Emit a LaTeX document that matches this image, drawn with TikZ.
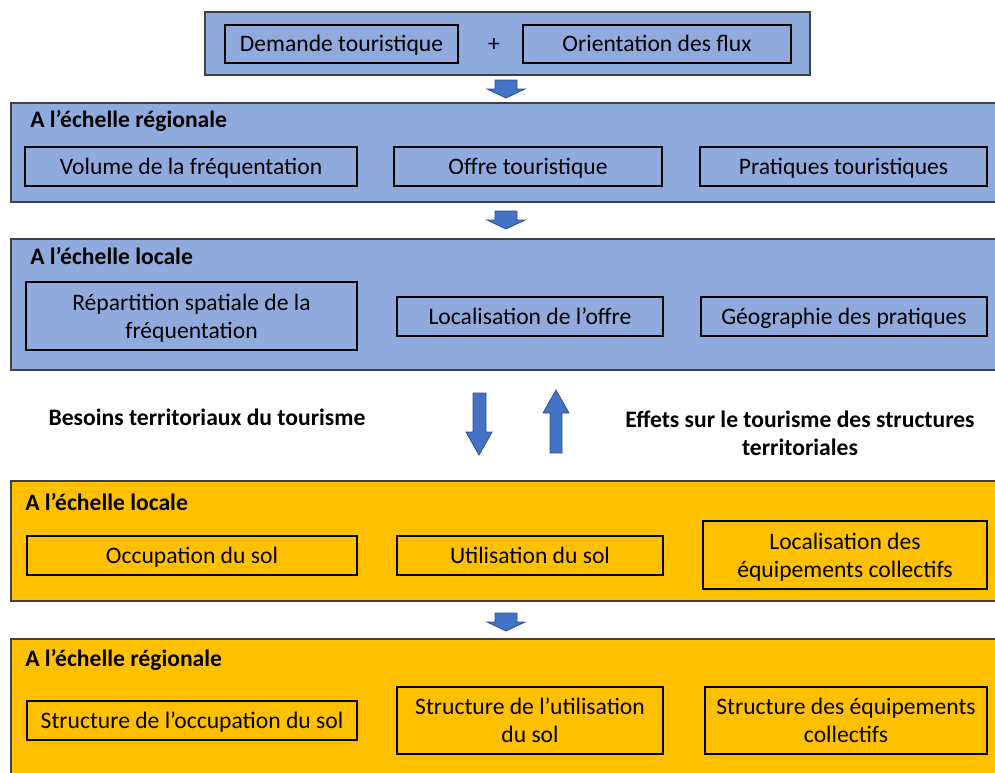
\documentclass[tikz,border=0pt]{standalone}
\usepackage{fontspec}
\setmainfont{Carlito}
\usetikzlibrary{positioning}

\definecolor{paleblue}{HTML}{8FAADC}
\definecolor{gold}{HTML}{FFC000}
\definecolor{arrowblue}{HTML}{4472C4}
\definecolor{arrowedge}{HTML}{2F528F}
\newcommand\pxu{0.75pt}

\tikzset{
  panel/.style={draw=black!75,line width=1.1pt,inner sep=0pt},
  item/.style={draw=black,line width=0.8pt,inner sep=0pt,align=center,
    font=\fontsize{17.7}{21}\selectfont},
  oneline/.style={item,text height=15pt,text depth=3.3pt},
  twoline/.style={item,text depth=0pt},
  heading/.style={anchor=west,inner sep=0pt,font=\fontsize{17.7}{21}\selectfont\bfseries},
  bigarrow/.style={fill=arrowblue,draw=arrowedge,line width=0.6pt,line join=miter}
}

\begin{document}
\begin{tikzpicture}[x=0.75pt,y=-0.75pt]
    \useasboundingbox (0,0) rectangle (995,772);
    % demande
    \node [panel,fill=paleblue,minimum width=605*\pxu,minimum height=63*\pxu] (top) at (507.5,43.5) {};
    \node [oneline,minimum width=233*\pxu,minimum height=38*\pxu] (dem) at (341.5,44) {Demande touristique};
    \node [oneline,draw=none] (plus) at (494,44) {+};
    \node [oneline,minimum width=268*\pxu,minimum height=38*\pxu] (ori) at (657,44) {Orientation des flux};
    % echelle regionale (tourisme)
    \node [panel,fill=paleblue,minimum width=990*\pxu,minimum height=99*\pxu] (regA) at (506,152.5) {};
    \node [heading] (regAt) at (30,121) {A l’échelle régionale};
    \node [oneline,minimum width=332*\pxu,minimum height=39*\pxu] (vol) at (191,166.5) {Volume de la fréquentation};
    \node [oneline,minimum width=268*\pxu,minimum height=39*\pxu] (offre) at (528,166.5) {Offre touristique};
    \node [oneline,minimum width=287*\pxu,minimum height=39*\pxu] (prat) at (843.5,166.5) {Pratiques touristiques};
    % echelle locale (tourisme)
    \node [panel,fill=paleblue,minimum width=990*\pxu,minimum height=131*\pxu] (locA) at (506,304.5) {};
    \node [heading] (locAt) at (30,256) {A l’échelle locale};
    \node [twoline,minimum width=331*\pxu,minimum height=68*\pxu] (rep) at (191.5,316) {Répartition spatiale de la\\fréquentation};
    \node [oneline,minimum width=266*\pxu,minimum height=39*\pxu] (locoffre) at (530,316.5) {Localisation de l’offre};
    \node [oneline,minimum width=286*\pxu,minimum height=39*\pxu] (geo) at (844,316.5) {Géographie des pratiques};
    % liens
    \node [heading,anchor=center] (besoins) at (207,417) {Besoins territoriaux du tourisme};
    \node [heading,anchor=center,align=center] (effets) at (800,433) {Effets sur le tourisme des structures\\territoriales};
    % echelle locale (territoire)
    \node [panel,fill=gold,minimum width=990*\pxu,minimum height=120*\pxu] (locB) at (506,541) {};
    \node [heading] (locBt) at (25,502) {A l’échelle locale};
    \node [oneline,minimum width=330*\pxu,minimum height=39*\pxu] (occ) at (192,555.5) {Occupation du sol};
    \node [oneline,minimum width=266*\pxu,minimum height=39*\pxu] (util) at (530,555.5) {Utilisation du sol};
    \node [twoline,minimum width=284*\pxu,minimum height=68*\pxu] (equip) at (845,555) {Localisation des\\équipements collectifs};
    % echelle regionale (territoire)
    \node [panel,fill=gold,minimum width=990*\pxu,minimum height=141*\pxu] (regB) at (506,709.5) {};
    \node [heading] (regBt) at (25,660) {A l’échelle régionale};
    \node [oneline,minimum width=330*\pxu,minimum height=39*\pxu] (socc) at (192,720.5) {Structure de l’occupation du sol};
    \node [twoline,minimum width=266*\pxu,minimum height=67*\pxu] (sutil) at (530,720.5) {Structure de l’utilisation\\du sol};
    \node [twoline,minimum width=282*\pxu,minimum height=67*\pxu] (sequip) at (846,720.5) {Structure des équipements\\collectifs};
    % fleches
    \draw [bigarrow] (495,80) -- (517,80) -- (517,89) -- (525,89) -- (506,98) -- (487,89) -- (495,89) -- cycle;
    \draw [bigarrow] (495,211) -- (517,211) -- (517,220) -- (525,220) -- (506,229) -- (487,220) -- (495,220) -- cycle;
    \draw [bigarrow] (495,613) -- (517,613) -- (517,622) -- (525,622) -- (506,631) -- (487,622) -- (495,622) -- cycle;
    \draw [bigarrow] (473,393) -- (486,393) -- (486,432) -- (492,432) -- (479,455) -- (466,432) -- (473,432) -- cycle;
    \draw [bigarrow] (550,453) -- (562,453) -- (562,413) -- (569,413) -- (556,390) -- (543,413) -- (550,413) -- cycle;
\end{tikzpicture}
\end{document}
